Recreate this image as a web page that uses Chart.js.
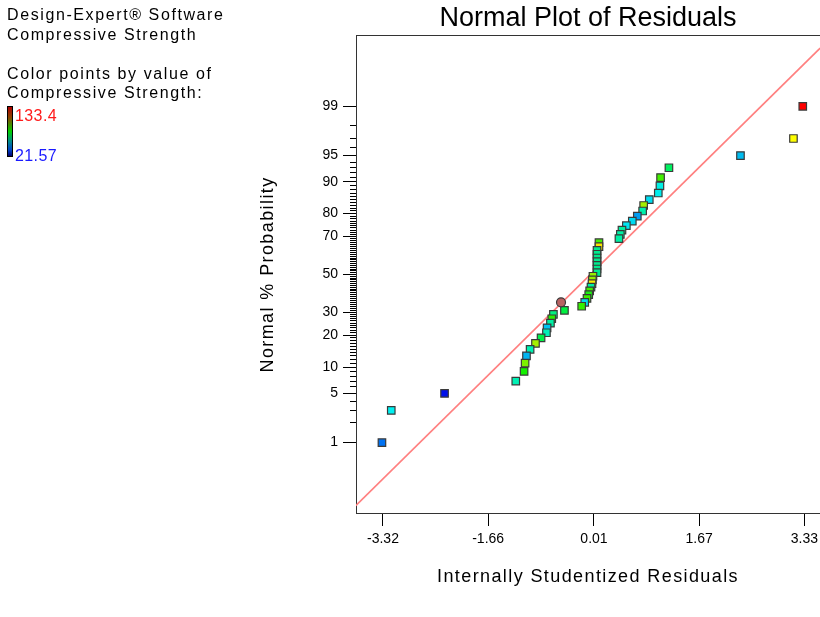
<!DOCTYPE html>
<html>
<head>
<meta charset="utf-8">
<script src="https://cdn.jsdelivr.net/npm/chart.js@4.4.1/dist/chart.umd.min.js"></script>
<style>
  body { margin: 0; background: #fff; }
  #wrap { position: relative; width: 820px; height: 617px; overflow: hidden; }
  #plot { position: absolute; left: 0; top: 0; }
  .note { position: absolute; font-family: 'Liberation Sans', Arial, sans-serif; font-size: 16px; line-height: 19.5px; letter-spacing: 1.6px; white-space: nowrap; }
  #bar { position: absolute; left: 7px; top: 106px; width: 4px; height: 49px; border: 1.5px solid #000;
         background: linear-gradient(to bottom, #b00000 0%, #8a4800 22%, #00d000 50%, #008c8c 70%, #0040c8 88%, #000070 100%); }
</style>
</head>
<body>
<div id="wrap">
  <canvas id="plot" width="820" height="617"></canvas>
  <div class="note" style="left:7px; top:5px;">Design-Expert® Software<br>Compressive Strength<br><br>Color points by value of<br>Compressive Strength:</div>
  <div id="bar"></div>
  <div class="note" style="left:15px; top:106px; color:#ff1a1a; letter-spacing:0.4px;">133.4</div>
  <div class="note" style="left:15px; top:146px; color:#1a1aff; letter-spacing:0.4px;">21.57</div>
</div>
<script>
// residuals sorted by rank, with their normal % probability
const residuals = [-3.336, -3.189, -2.348, -1.224, -1.093, -1.077, -1.055, -0.998, -0.913, -0.825,
                   -0.740, -0.730, -0.677, -0.656, -0.630, -0.456, -0.184, -0.136, -0.100, -0.073,
                   -0.058, -0.037, -0.021, -0.015, -0.006, 0.058, 0.058, 0.058, 0.058, 0.058,
                   0.058, 0.058, 0.089, 0.089, 0.404, 0.426, 0.452, 0.521, 0.615, 0.694,
                   0.778, 0.794, 0.883, 1.025, 1.051, 1.061, 1.193, 2.322, 3.158, 3.305];
const probPct = [1, 3, 5, 7, 9, 11, 13, 15, 17, 19,
                 21, 23, 25, 27, 29, 31, 33, 35, 37, 39,
                 41, 43, 45, 47, 49, 51, 53, 55, 57, 59,
                 61, 63, 65, 67, 69, 71, 73, 75, 77, 79,
                 81, 83, 85, 87, 89, 91, 93, 95, 97, 99];
const pointColors = ['#0072f2', '#00f0f0', '#0010ea', '#00f0b4', '#14f000', '#7cf000', '#00b4f0', '#00f0b0', '#a6f000', '#00f048',
                     '#00f0b8', '#00c4f0', '#00f0a4', '#28f000', '#00f080', '#00f040', '#34f000', '#00dcf0', '#3cf000', '#1cf010',
                     '#44f000', '#00f0a0', '#f8f000', '#94f000', '#94f000', '#00ea8c', '#00ea8c', '#00ea8c', '#00ea8c', '#00ea8c',
                     '#00ea8c', '#00ea8c', '#f8e400', '#44f000', '#00f0a4', '#00f0a4', '#00f0a0', '#00e4f0', '#00d8f0', '#009cf0',
                     '#00f0ac', '#a4f000', '#00dcf0', '#00ecec', '#00f0e4', '#44f000', '#00f060', '#00bcf0', '#ffff00', '#ff0000'];

// highlighted point (circle)
const markX = [-0.510];
const markPct = [35];

// fitted normal line, ends at the plot edges
const lineX = [-3.75, 3.58];
const linePct = [0.069, 99.913];

const xTicks = [-3.32, -1.66, 0.01, 1.67, 3.33];
const yTickPct = [1, 5, 10, 20, 30, 50, 70, 80, 90, 95, 99];

// inverse normal cdf (Acklam)
function probit(p) {
    const a = [-3.969683028665376e+01, 2.209460984245205e+02, -2.759285104469687e+02, 1.383577518672690e+02, -3.066479806614716e+01, 2.506628277459239e+00];
    const b = [-5.447609879822406e+01, 1.615858368580409e+02, -1.556989798598866e+02, 6.680131188771972e+01, -1.328068155288572e+01];
    const c = [-7.784894002430293e-03, -3.223964580411365e-01, -2.400758277161838e+00, -2.549732539343734e+00, 4.374664141464968e+00, 2.938163982698783e+00];
    const d = [7.784695709041462e-03, 3.224671290700398e-01, 2.445134137142996e+00, 3.754408661907416e+00];
    const pl = 0.02425;
    let q, r;
    if (p < pl) {
        q = Math.sqrt(-2 * Math.log(p));
        return (((((c[0]*q+c[1])*q+c[2])*q+c[3])*q+c[4])*q+c[5]) / ((((d[0]*q+d[1])*q+d[2])*q+d[3])*q+1);
    }
    if (p > 1 - pl) {
        q = Math.sqrt(-2 * Math.log(1 - p));
        return -(((((c[0]*q+c[1])*q+c[2])*q+c[3])*q+c[4])*q+c[5]) / ((((d[0]*q+d[1])*q+d[2])*q+d[3])*q+1);
    }
    q = p - 0.5; r = q * q;
    return (((((a[0]*r+a[1])*r+a[2])*r+a[3])*r+a[4])*r+a[5])*q / (((((b[0]*r+b[1])*r+b[2])*r+b[3])*r+b[4])*r+1);
}

const minorPct = [];
for (let p = 1; p <= 99; p++) minorPct.push(p);

// lower ranks are drawn on top in the original
const pts = residuals.map((x, i) => ({ x: x, y: probit(probPct[i] / 100) })).reverse();
const cols = pointColors.slice().reverse();

const Z = 3.3;
const X_MIN = -3.7455, X_MAX = 3.577;

// axis titles are drawn letter-spaced like the original
const spacedTitles = {
    id: 'spacedTitles',
    afterLayout(chart) {
        ['x', 'y'].forEach(id => {
            const s = chart.scales[id];
            if (!s || s._spaced) return;
            const draw = s.drawTitle;
            s.drawTitle = function() {
                this.ctx.letterSpacing = '1.4px';
                draw.call(this);
                this.ctx.letterSpacing = '0px';
            };
            s._spaced = true;
        });
    }
};

Chart.defaults.font.family = "'Liberation Sans', Arial, sans-serif";
Chart.defaults.color = '#000';

new Chart(document.getElementById('plot'), {
    type: 'scatter',
    data: {
        datasets: [
            {
                data: markX.map((x, i) => ({ x: x, y: probit(markPct[i] / 100) })),
                pointStyle: 'circle',
                pointRadius: 4.5,
                backgroundColor: '#b86262',
                borderColor: '#3a3a3a',
                borderWidth: 1.2,
                order: 0
            },
            {
                data: pts,
                pointStyle: 'rect',
                pointRadius: 5.3,
                backgroundColor: cols,
                borderColor: '#3a3a3a',
                borderWidth: 1.2,
                order: 1
            },
            {
                type: 'line',
                data: lineX.map((x, i) => ({ x: x, y: probit(linePct[i] / 100) })),
                borderColor: '#ff8080',
                borderWidth: 1.8,
                pointRadius: 0,
                fill: false,
                order: 2
            }
        ]
    },
    options: {
        responsive: false,
        animation: false,
        layout: { autoPadding: false, padding: { left: 250, right: 0, top: 0, bottom: 0 } },
        plugins: {
            legend: { display: false },
            tooltip: { enabled: false },
            title: {
                display: true,
                text: 'Normal Plot of Residuals',
                fullSize: false,
                font: { size: 27, weight: 'normal' },
                color: '#000',
                padding: { top: 2, bottom: 1.5 }
            }
        },
        scales: {
            x: {
                type: 'linear',
                min: X_MIN,
                max: X_MAX,
                afterBuildTicks: s => { s.ticks = xTicks.map(v => ({ value: v })); },
                afterFit: s => { s.height = 104; s.paddingLeft = 0; s.paddingRight = 0; },
                grid: { drawOnChartArea: false, tickLength: 13, color: '#000' },
                border: { color: '#333' },
                ticks: { font: { size: 14 }, padding: 5, autoSkip: false, maxRotation: 0,
                         callback: v => v.toFixed(2) },
                title: { display: true, text: 'Internally Studentized Residuals',
                         font: { size: 18 }, padding: { bottom: 29 } }
            },
            xTop: {
                type: 'linear',
                position: 'top',
                min: X_MIN,
                max: X_MAX,
                afterFit: s => { s.height = 0; s.paddingLeft = 0; s.paddingRight = 0; },
                grid: { display: false },
                ticks: { display: false },
                border: { color: '#333' }
            },
            y: {
                type: 'linear',
                position: 'left',
                weight: 1,
                min: -Z,
                max: Z,
                afterBuildTicks: s => { s.ticks = yTickPct.map(p => ({ value: probit(p / 100) })); },
                afterFit: s => { s.width = 106; s.paddingTop = 0; s.paddingBottom = 0; },
                grid: { drawOnChartArea: false, tickLength: 13, color: '#000' },
                border: { color: '#333' },
                ticks: { font: { size: 14 }, padding: 5, autoSkip: false,
                         callback: (v, i) => String(yTickPct[i]) },
                title: { display: true, text: 'Normal % Probability',
                         font: { size: 18 }, padding: { top: 7 } }
            },
            yMinor: {
                type: 'linear',
                position: 'left',
                weight: 0,
                min: -Z,
                max: Z,
                afterBuildTicks: s => { s.ticks = minorPct.map(p => ({ value: probit(p / 100) })); },
                afterFit: s => { s.width = 0; },
                grid: { drawOnChartArea: false, tickLength: 6, color: '#000' },
                border: { display: false },
                ticks: { display: false }
            }
        }
    },
    plugins: [spacedTitles]
});
</script>
</body>
</html>
